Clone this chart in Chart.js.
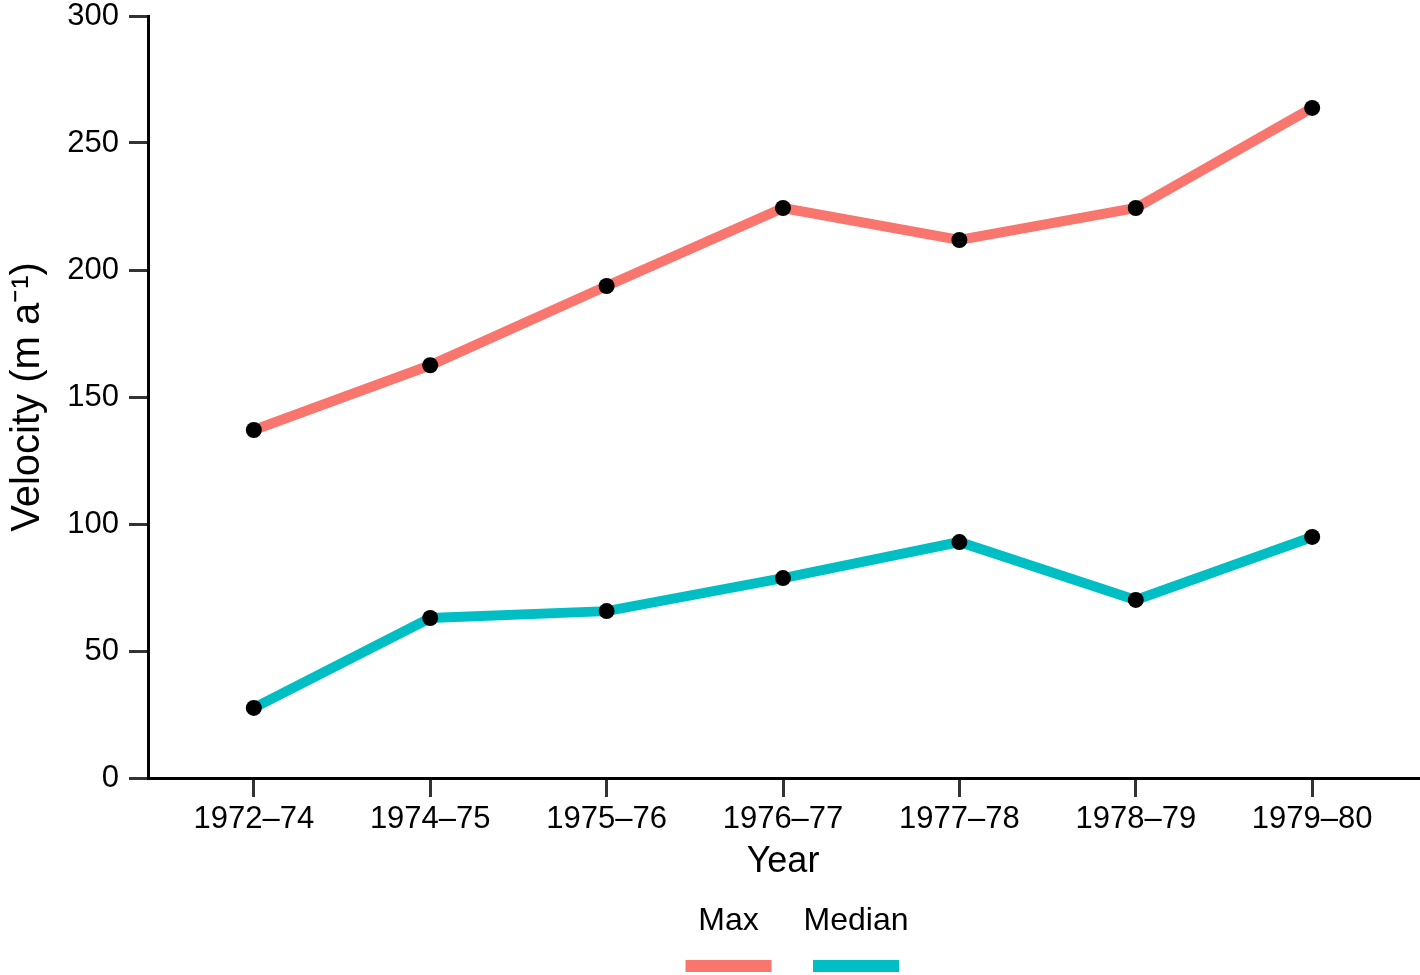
<!DOCTYPE html>
<html>
<head>
<meta charset="utf-8">
<title>Velocity by year</title>
<script src="https://cdn.jsdelivr.net/npm/chart.js@4/dist/chart.umd.min.js"></script>
<style>
    body { margin: 0; background: #fff; }
    canvas { display: block; }
</style>
</head>
<body>
<canvas id="velocity-chart" width="1420" height="975"></canvas>
<script>
const years = ['1972–74', '1974–75', '1975–76', '1976–77', '1977–78', '1978–79', '1979–80'];
const maxVelocity = [137, 162.5, 193.7, 224.4, 211.8, 224.4, 263.8];
const medianVelocity = [27.6, 63, 65.7, 78.7, 92.9, 70.1, 94.9];
const yTicks = [0, 50, 100, 150, 200, 250, 300];

const FONT = '"Liberation Sans", Arial, Helvetica, sans-serif';

const toPoints = values => values.map((v, i) => ({x: i + 1, y: v}));

// legend with the label above a thick colour bar, like ggplot's bottom legend
const barLegend = {
    id: 'barLegend',
    afterDraw(chart, args, opts){
        const ctx = chart.ctx;
        ctx.save();
        ctx.font = `${opts.fontSize}px ${FONT}`;
        const items = chart.data.datasets.map(ds => {
            const tw = ctx.measureText(ds.label).width;
            return {label: ds.label, color: ds.borderColor, w: Math.max(tw, opts.barWidth)};
        });
        const total = items.reduce((s, it) => s + it.w, 0) + opts.gap * (items.length - 1);
        let x = opts.centerX - total / 2;
        items.forEach(it => {
            const cx = x + it.w / 2;
            ctx.fillStyle = '#000';
            ctx.textAlign = 'center';
            ctx.textBaseline = 'middle';
            ctx.fillText(it.label, cx, opts.textY);
            ctx.fillStyle = it.color;
            ctx.fillRect(cx - opts.barWidth / 2, opts.barY, opts.barWidth, opts.barHeight);
            x += it.w + opts.gap;
        });
        ctx.restore();
    }
};

const ctx = document.getElementById('velocity-chart').getContext('2d');
const chart = new Chart(ctx, {
    type: 'line',
    data: {
        datasets: [{
            label: 'Max',
            data: toPoints(maxVelocity),
            borderColor: '#F8766D',
            borderWidth: 10,
            pointBackgroundColor: '#000',
            pointBorderWidth: 0,
            pointRadius: 8,
            tension: 0
        }, {
            label: 'Median',
            data: toPoints(medianVelocity),
            borderColor: '#00BFC4',
            borderWidth: 10,
            pointBackgroundColor: '#000',
            pointBorderWidth: 0,
            pointRadius: 8,
            tension: 0
        }]
    },
    options: {
        responsive: false,
        animation: false,
        layout: {
            autoPadding: false,
            padding: {top: 16, right: 2, bottom: 87, left: 0}
        },
        plugins: {
            legend: {display: false},
            tooltip: {enabled: false},
            barLegend: {
                centerX: 797, textY: 921, barY: 960, barHeight: 12,
                barWidth: 86, gap: 32, fontSize: 32
            }
        },
        scales: {
            x: {
                type: 'linear',
                min: 0.4,
                max: 7.6,
                afterBuildTicks: axis => {
                    axis.ticks = years.map((y, i) => ({value: i + 1}));
                },
                afterFit: scale => {
                    scale.height = 110;
                    scale.paddingLeft = 0;
                    scale.paddingRight = 0;
                },
                ticks: {
                    callback: v => years[v - 1],
                    color: '#000',
                    font: {family: FONT, size: 31},
                    padding: 4,
                    maxRotation: 0,
                    autoSkip: false
                },
                grid: {
                    drawOnChartArea: false,
                    drawTicks: true,
                    tickLength: 19,
                    color: '#333',
                    lineWidth: 3
                },
                border: {display: true, color: '#000', width: 3},
                title: {
                    display: true,
                    text: 'Year',
                    color: '#000',
                    font: {family: FONT, size: 36, lineHeight: 1.2},
                    padding: {top: 0, bottom: 4}
                }
            },
            y: {
                min: 0,
                max: 300,
                afterBuildTicks: axis => {
                    axis.ticks = yTicks.map(v => ({value: v}));
                },
                afterFit: scale => {
                    scale.width = 148;
                    scale.paddingTop = 0;
                    scale.paddingBottom = 0;
                },
                ticks: {
                    color: '#000',
                    font: {family: FONT, size: 31},
                    padding: 10
                },
                grid: {
                    drawOnChartArea: false,
                    drawTicks: true,
                    tickLength: 19,
                    color: '#333',
                    lineWidth: 3
                },
                border: {display: true, color: '#000', width: 3},
                title: {
                    display: true,
                    text: 'Velocity (m a⁻¹)',
                    color: '#000',
                    font: {family: FONT, size: 40, lineHeight: 1.2},
                    padding: {top: 4, bottom: 0}
                }
            }
        }
    },
    plugins: [barLegend]
});
</script>
</body>
</html>
